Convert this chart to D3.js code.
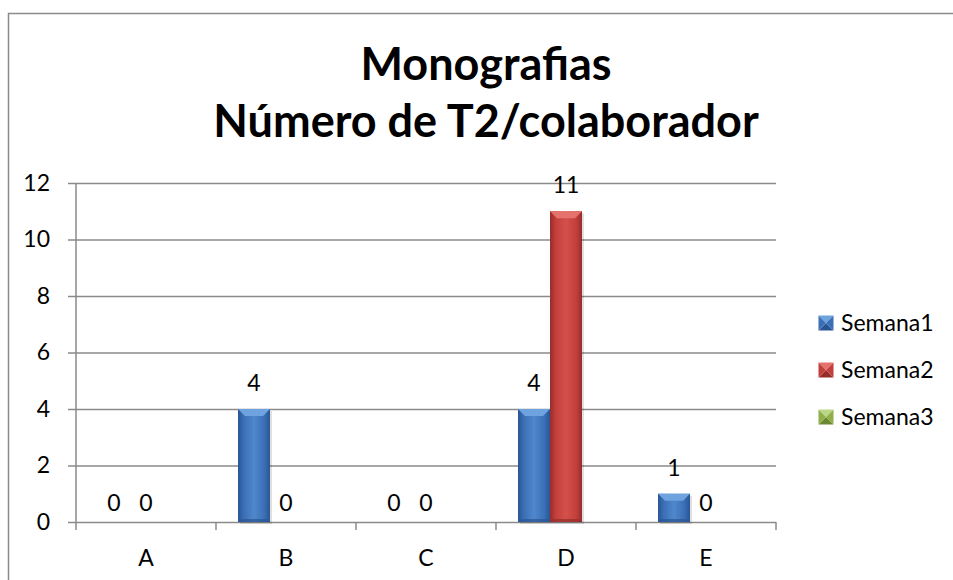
<!DOCTYPE html>
<html>
<head>
<meta charset="utf-8">
<script src="https://cdn.jsdelivr.net/npm/d3@7"></script>
<style>
  body { margin: 0; background: #fff; }
  svg { display: block; font-family: Lato, "Open Sans", sans-serif; }
</style>
</head>
<body>
<div id="chart"></div>
<script>
// data
const categories = ["A", "B", "C", "D", "E"];
const seriesNames = ["Semana1", "Semana2", "Semana3"];
const semana1 = [0, 4, 0, 4, 1];
const semana2 = [0, 0, 0, 11, 0];
const semana3 = [null, null, null, null, null]; // no values shown
const yTicks = [0, 2, 4, 6, 8, 10, 12];
const titleLines = ["Monografias", "Número de T2/colaborador"];

const colors = {
  Semana1: { base: "#3b6fb6", light: "#5088cc", top: "#6fa3e0", dark: "#2a5594" },
  Semana2: { base: "#c33f3b", light: "#d4504b", top: "#e5726d", dark: "#962d2b" },
  Semana3: { base: "#8fb049", light: "#a7c766", top: "#bcd785", dark: "#6b8732" }
};

const width = 953, height = 580;
const grid = "#8a8a8a";
const fs = "23px";

const svg = d3.select("#chart").append("svg")
  .attr("width", width)
  .attr("height", height);

const defs = svg.append("defs");
seriesNames.forEach(s => {
  const g = defs.append("linearGradient")
    .attr("id", "grad-" + s)
    .attr("x1", "0").attr("x2", "1").attr("y1", "0").attr("y2", "0");
  g.append("stop").attr("offset", "0%").attr("stop-color", colors[s].dark);
  g.append("stop").attr("offset", "18%").attr("stop-color", colors[s].base);
  g.append("stop").attr("offset", "50%").attr("stop-color", colors[s].light);
  g.append("stop").attr("offset", "82%").attr("stop-color", colors[s].base);
  g.append("stop").attr("offset", "100%").attr("stop-color", colors[s].dark);
});

// chart frame (runs off the right and bottom of the window)
svg.append("path")
  .attr("d", `M8.5,${height + 5} L8.5,13.5 L${width + 5},13.5`)
  .attr("fill", "none")
  .attr("stroke", grid)
  .attr("stroke-width", 1.5);

// title
svg.append("text")
  .attr("text-anchor", "middle")
  .attr("font-weight", "bold")
  .attr("font-size", "45px")
  .attr("fill", "#000")
  .selectAll("tspan")
  .data(titleLines)
  .enter().append("tspan")
    .attr("x", 486)
    .attr("y", (d, i) => 80 + i * 57)
    .text(d => d);

const x0 = d3.scaleBand().domain(categories).range([76, 776]);
const x1 = d3.scaleBand().domain(seriesNames)
  .range([0, x0.bandwidth()])
  .paddingOuter(0.6875);
const y = d3.scaleLinear().domain([0, 12]).range([522, 183]);

// gridlines + y axis
svg.append("g")
  .attr("transform", "translate(76,0)")
  .call(d3.axisLeft(y).tickValues(yTicks).tickSize(-700).tickSizeOuter(0).tickPadding(0))
  .call(g => g.select(".domain").remove())
  .call(g => g.selectAll(".tick line").attr("stroke", grid).attr("stroke-width", 1.5).attr("x1", -8))
  .call(g => g.selectAll(".tick text")
    .attr("x", -26)
    .attr("font-size", fs)
    .attr("font-family", "Lato, sans-serif")
    .attr("fill", "#000"));

svg.append("line")
  .attr("x1", 76).attr("x2", 76)
  .attr("y1", y(12)).attr("y2", y(0))
  .attr("stroke", grid).attr("stroke-width", 1.5);

// x axis
const tickXs = categories.map(c => x0(c)).concat([x0.range()[1]]);
svg.append("g")
  .selectAll("line")
  .data(tickXs)
  .enter().append("line")
    .attr("x1", d => d).attr("x2", d => d)
    .attr("y1", y(0)).attr("y2", y(0) + 8)
    .attr("stroke", grid).attr("stroke-width", 1.5);

svg.append("g")
  .selectAll("text")
  .data(categories)
  .enter().append("text")
    .attr("x", d => x0(d) + x0.bandwidth() / 2)
    .attr("y", 566)
    .attr("text-anchor", "middle")
    .attr("font-size", fs)
    .text(d => d);

// bars
const seriesData = { Semana1: semana1, Semana2: semana2, Semana3: semana3 };
const points = [];
seriesNames.forEach(s => {
  seriesData[s].forEach((v, i) => {
    if (v !== null) points.push({ s, cat: categories[i], v });
  });
});

const bars = svg.append("g").selectAll("g")
  .data(points.filter(d => d.v > 0))
  .enter().append("g")
    .attr("transform", d => `translate(${x0(d.cat) + x1(d.s)},0)`);

const bw = x1.bandwidth();
const bev = 7;

bars.append("rect")
  .attr("x", 2).attr("y", d => y(d.v) + 2)
  .attr("width", bw).attr("height", d => y(0) - y(d.v))
  .attr("fill", "#000").attr("opacity", 0.12);

bars.append("rect")
  .attr("x", 0).attr("y", d => y(d.v))
  .attr("width", bw).attr("height", d => y(0) - y(d.v))
  .attr("fill", d => `url(#grad-${d.s})`);

bars.append("path")
  .attr("d", d => {
    const t = y(d.v);
    return `M0,${t} L${bw},${t} L${bw - bev},${t + bev} L${bev},${t + bev} Z`;
  })
  .attr("fill", d => colors[d.s].top);

bars.append("path")
  .attr("d", d => {
    const b = y(0);
    return `M0,${b} L${bw},${b} L${bw - 3},${b - 3} L3,${b - 3} Z`;
  })
  .attr("fill", d => colors[d.s].dark)
  .attr("opacity", 0.7);

// value labels
svg.append("g").selectAll("text")
  .data(points)
  .enter().append("text")
    .attr("x", d => x0(d.cat) + x1(d.s) + bw / 2)
    .attr("y", d => y(d.v) - (d.v === 0 ? 11 : 18))
    .attr("text-anchor", "middle")
    .attr("font-size", fs)
    .text(d => d.v);

// legend
const legend = svg.append("g").selectAll("g")
  .data(seriesNames)
  .enter().append("g")
    .attr("transform", (d, i) => `translate(826,${323 + i * 47})`);

const m = 7.5;
legend.each(function (s) {
  const g = d3.select(this);
  const c = colors[s];
  g.append("path").attr("d", `M${-m},${-m} L${m},${-m} L0,0 Z`).attr("fill", c.top);
  g.append("path").attr("d", `M${-m},${m} L${m},${m} L0,0 Z`).attr("fill", c.dark);
  g.append("path").attr("d", `M${-m},${-m} L${-m},${m} L0,0 Z`).attr("fill", c.base);
  g.append("path").attr("d", `M${m},${-m} L${m},${m} L0,0 Z`).attr("fill", c.base);
});

legend.append("text")
  .attr("x", 15)
  .attr("y", 0)
  .attr("dy", "0.35em")
  .attr("font-size", fs)
  .text(d => d);
</script>
</body>
</html>
